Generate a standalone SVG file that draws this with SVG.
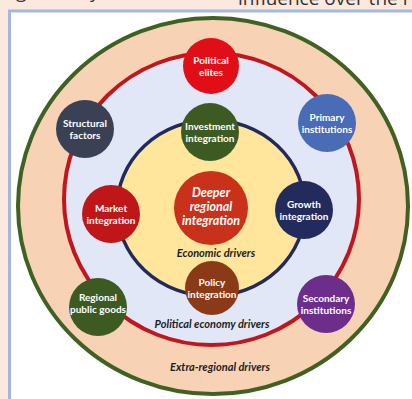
<svg xmlns="http://www.w3.org/2000/svg" width="412" height="399" viewBox="0 0 412 399">
<style>
.nt{font-family:Lato,"Open Sans","Liberation Sans",sans-serif;font-weight:bold;font-size:10px;fill:#fff;text-anchor:middle}
.ct{font-family:Lato,"Open Sans","Liberation Sans",sans-serif;font-weight:bold;font-style:italic;font-size:12.5px;fill:#fff;text-anchor:middle}
.lb{font-family:Lato,"Open Sans","Liberation Sans",sans-serif;font-weight:bold;font-style:italic;font-size:11px;fill:#1e1e1e;text-anchor:middle}
.pg{font-family:"Open Sans","Liberation Sans",sans-serif;font-size:19px;fill:#333}
</style>
<rect x="0" y="0" width="412" height="399" fill="#FBE8DE"/>
<text class="pg" x="16" y="-2">g</text>
<text class="pg" x="90" y="-2">y</text>
<text class="pg" x="238" y="4.5">influence over the r</text>
<rect x="9.5" y="11" width="420" height="400" fill="#fff" stroke="#A5B7DA" stroke-width="3"/>
<g id="rings">
<ellipse cx="213" cy="206" rx="195" ry="188" fill="#F8D2B5" stroke="#3F6121" stroke-width="4"/>
<ellipse cx="211.5" cy="199" rx="147.5" ry="146" fill="#E1E7F6" stroke="#C0161E" stroke-width="4"/>
<ellipse cx="211" cy="208" rx="94" ry="88" fill="#FFE69C" stroke="#222A5C" stroke-width="3.5"/>
</g>
<g id="labels">
<text class="lb" x="216" y="257">Economic drivers</text>
<text class="lb" x="212" y="328">Political economy drivers</text>
<text class="lb" x="220" y="371">Extra-regional drivers</text>
</g>
<g id="political-elites"><circle cx="211" cy="66" r="28" fill="#E20E17"/><text class="nt" x="211" y="64">Political</text><text class="nt" x="211" y="76">elites</text></g>
<g id="structural-factors"><circle cx="85" cy="129" r="29" fill="#3A4154"/><text class="nt" x="85" y="127">Structural</text><text class="nt" x="85" y="139">factors</text></g>
<g id="primary-institutions"><circle cx="327" cy="123" r="29" fill="#4A6BB5"/><text class="nt" x="327" y="121">Primary</text><text class="nt" x="327" y="133">institutions</text></g>
<g id="investment-integration"><circle cx="210" cy="132" r="29" fill="#3E5A23"/><text class="nt" x="210" y="130">Investment</text><text class="nt" x="210" y="142">integration</text></g>
<g id="deeper-regional-integration"><circle cx="211" cy="208" r="37" fill="#C9311B"/><text class="ct" x="211" y="197">Deeper</text><text class="ct" x="211" y="211">regional</text><text class="ct" x="211" y="225">integration</text></g>
<g id="market-integration"><circle cx="111" cy="214" r="29" fill="#BE1619"/><text class="nt" x="111" y="212">Market</text><text class="nt" x="111" y="224">integration</text></g>
<g id="growth-integration"><circle cx="304" cy="210" r="29" fill="#232A5C"/><text class="nt" x="304" y="208">Growth</text><text class="nt" x="304" y="220">integration</text></g>
<g id="policy-integration"><circle cx="212" cy="288" r="27" fill="#8A3A16"/><text class="nt" x="212" y="286">Policy</text><text class="nt" x="212" y="298">integration</text></g>
<g id="regional-public-goods"><circle cx="98" cy="307" r="29" fill="#3E5A23"/><text class="nt" x="98" y="301">Regional</text><text class="nt" x="98" y="313">public goods</text></g>
<g id="secondary-institutions"><circle cx="326" cy="304" r="29" fill="#6D2D8A"/><text class="nt" x="326" y="302">Secondary</text><text class="nt" x="326" y="314">institutions</text></g>
</svg>
